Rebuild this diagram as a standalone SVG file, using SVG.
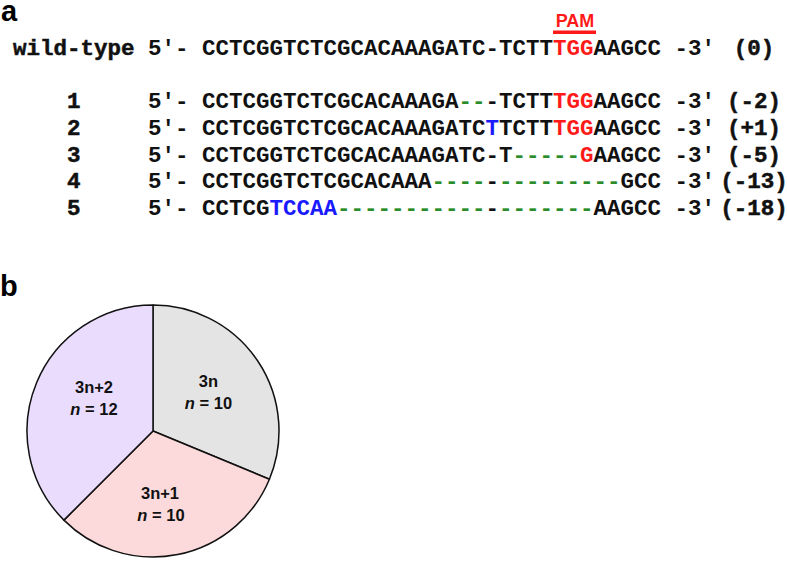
<svg xmlns="http://www.w3.org/2000/svg" width="787" height="561" viewBox="0 0 787 561">
<style>
.panel{font-family:"Liberation Sans",Arial,sans-serif;font-weight:bold;font-size:29px;fill:#000}
.mono{font-family:"Liberation Mono","Courier New",monospace;font-size:22.5px;font-weight:bold;fill:#111}
.lab{font-family:"Liberation Mono","Courier New",monospace;font-size:22.5px;font-weight:bold;fill:#111;stroke:#111;stroke-width:0.5}
.red{fill:#ff1a1a}
.blue{fill:#1a1aff}
.green{fill:#2a8c2a}
.pam{font-family:"Liberation Sans",Arial,sans-serif;font-weight:bold;font-size:18px;fill:#ff1a1a}
.slice{stroke:#111;stroke-width:1.5;stroke-linejoin:round}
.plab{font-family:"Liberation Sans",Arial,sans-serif;font-weight:bold;font-size:16.5px;fill:#111;text-anchor:middle}
.it{font-style:italic}
.cnt{text-anchor:middle}
</style>
<rect width="787" height="561" fill="#fff"/>
<text class="panel" x="1" y="21">a</text>
<text class="panel" x="0" y="296">b</text>

<g id="pam">
<text class="pam" x="575" y="27" text-anchor="middle">PAM</text>
<rect x="553" y="30.5" width="43" height="3.5" fill="#ff1a1a"/>
</g>

<g id="row-wt">
<text class="lab" x="13" y="55">wild-type</text>
<text class="mono" x="148" y="55">5′-</text>
<text class="mono" x="202" y="55">CCTCGGTCTCGCACAAAGATC-TCTT<tspan class="red">TGG</tspan>AAGCC</text>
<text class="mono" x="674.5" y="55">-3′</text>
<text class="lab cnt" x="754" y="55">(0)</text>
</g>
<g id="row-1">
<text class="lab" x="67" y="108">1</text>
<text class="mono" x="148" y="108">5′-</text>
<text class="mono" x="202" y="108">CCTCGGTCTCGCACAAAGA<tspan class="green">--</tspan>-TCTT<tspan class="red">TGG</tspan>AAGCC</text>
<text class="mono" x="674.5" y="108">-3′</text>
<text class="lab cnt" x="754" y="108">(-2)</text>
</g>
<g id="row-2">
<text class="lab" x="67" y="135">2</text>
<text class="mono" x="148" y="135">5′-</text>
<text class="mono" x="202" y="135">CCTCGGTCTCGCACAAAGATC<tspan class="blue">T</tspan>TCTT<tspan class="red">TGG</tspan>AAGCC</text>
<text class="mono" x="674.5" y="135">-3′</text>
<text class="lab cnt" x="754" y="135">(+1)</text>
</g>
<g id="row-3">
<text class="lab" x="67" y="162">3</text>
<text class="mono" x="148" y="162">5′-</text>
<text class="mono" x="202" y="162">CCTCGGTCTCGCACAAAGATC-T<tspan class="green">-----</tspan><tspan class="red">G</tspan>AAGCC</text>
<text class="mono" x="674.5" y="162">-3′</text>
<text class="lab cnt" x="754" y="162">(-5)</text>
</g>
<g id="row-4">
<text class="lab" x="67" y="188">4</text>
<text class="mono" x="148" y="188">5′-</text>
<text class="mono" x="202" y="188">CCTCGGTCTCGCACAAA<tspan class="green">----</tspan>-<tspan class="green">---------</tspan>GCC</text>
<text class="mono" x="674.5" y="188">-3′</text>
<text class="lab cnt" x="754" y="188">(-13)</text>
</g>
<g id="row-5">
<text class="lab" x="67" y="215">5</text>
<text class="mono" x="148" y="215">5′-</text>
<text class="mono" x="202" y="215">CCTCG<tspan class="blue">TCCAA</tspan><tspan class="green">-----------</tspan>-<tspan class="green">-------</tspan>AAGCC</text>
<text class="mono" x="674.5" y="215">-3′</text>
<text class="lab cnt" x="754" y="215">(-18)</text>
</g>

<g id="slice-3n">
<path class="slice" fill="#e4e4e4" d="M153,431 L153,305 A126,126 0 0 1 269.41,479.22 Z"/>
<text class="plab" x="208.5" y="387">3n</text>
<text class="plab" x="208.5" y="409"><tspan class="it">n</tspan> = 10</text>
</g>
<g id="slice-3n1">
<path class="slice" fill="#fcdadb" d="M153,431 L269.41,479.22 A126,126 0 0 1 63.90,520.10 Z"/>
<text class="plab" x="160" y="499">3n+1</text>
<text class="plab" x="161" y="521"><tspan class="it">n</tspan> = 10</text>
</g>
<g id="slice-3n2">
<path class="slice" fill="#e9dcfc" d="M153,431 L63.90,520.10 A126,126 0 0 1 153,305 Z"/>
<text class="plab" x="94" y="393">3n+2</text>
<text class="plab" x="94" y="415"><tspan class="it">n</tspan> = 12</text>
</g>
<g id="connectors"></g>
</svg>
